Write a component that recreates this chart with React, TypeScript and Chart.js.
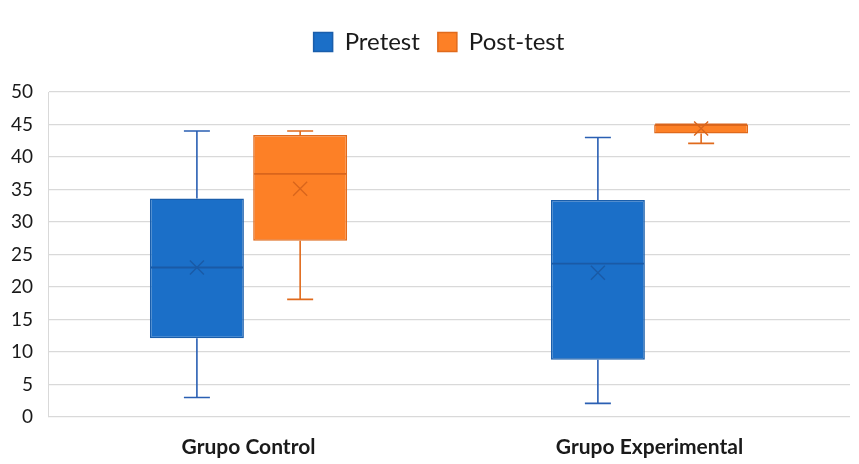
import React, { useEffect, useRef } from "react";
import { Chart, registerables } from "chart.js";

Chart.register(...registerables);

const categories = ["Grupo Control", "Grupo Experimental"];
const seriesNames = ["Pretest", "Post-test"];

const preMin = [3, 2.1];
const preQ1 = [12.1, 8.8];
const preMedian = [23, 23.6];
const preQ3 = [33.6, 33.4];
const preMax = [44, 43];
const preMean = [23, 22.2];

const postMin = [18.1, 42.1];
const postQ1 = [27.1, 43.6];
const postMedian = [37.4, 45];
const postQ3 = [43.4, 45];
const postMax = [44, 45];
const postMean = [35.1, 44.4];

const yTicks = [0, 5, 10, 15, 20, 25, 30, 35, 40, 45, 50];

const stats = [
  { min: preMin, q1: preQ1, med: preMedian, q3: preQ3, max: preMax, mean: preMean },
  { min: postMin, q1: postQ1, med: postMedian, q3: postQ3, max: postMax, mean: postMean },
];

const fills = ["#1b6fc8", "#fd8026"];
const borders = ["#1a5eab", "#e06a1c"];
const whiskerColors = ["#2a5fb3", "#e06a1c"];
const markColors = ["#1a5aa6", "#d9651c"];

const legendGap = {
  id: "legendGap",
  beforeInit(chart: any) {
    const lg = chart.legend;
    const origFit = lg.fit;
    lg.fit = function () {
      origFit.call(this);
      this.height += 28;
    };
    const origDraw = lg.draw;
    lg.draw = function () {
      const c = this.ctx;
      c.save();
      c.translate(13, 0);
      origDraw.call(this);
      c.restore();
    };
  },
};

const boxPlugin = {
  id: "boxDecor",
  afterDatasetsDraw(chart: any) {
    const ctx = chart.ctx;
    const y = chart.scales.y;
    chart.data.datasets.forEach((_ds: any, di: number) => {
      const meta = chart.getDatasetMeta(di);
      const s = stats[di];
      meta.data.forEach((el: any, i: number) => {
        const x = el.x;
        const w = el.width;
        const half = w / 2;
        const cap = 13;
        ctx.save();
        ctx.strokeStyle = whiskerColors[di];
        ctx.lineWidth = 1.6;
        ctx.beginPath();
        const pMax = y.getPixelForValue(s.max[i]);
        const pQ3 = y.getPixelForValue(s.q3[i]);
        const pQ1 = y.getPixelForValue(s.q1[i]);
        const pMin = y.getPixelForValue(s.min[i]);
        if (s.max[i] > s.q3[i]) {
          ctx.moveTo(x, pQ3);
          ctx.lineTo(x, pMax);
          ctx.moveTo(x - cap, pMax);
          ctx.lineTo(x + cap, pMax);
        }
        if (s.min[i] < s.q1[i]) {
          ctx.moveTo(x, pQ1);
          ctx.lineTo(x, pMin);
          ctx.moveTo(x - cap, pMin);
          ctx.lineTo(x + cap, pMin);
        }
        ctx.stroke();
        ctx.strokeStyle = markColors[di];
        ctx.lineWidth = 1.8;
        const pMed = y.getPixelForValue(s.med[i]);
        ctx.beginPath();
        ctx.moveTo(x - half + 1, pMed);
        ctx.lineTo(x + half - 1, pMed);
        ctx.stroke();
        const pMean = y.getPixelForValue(s.mean[i]);
        const m = 7;
        ctx.lineWidth = 1.4;
        ctx.beginPath();
        ctx.moveTo(x - m, pMean - m);
        ctx.lineTo(x + m, pMean + m);
        ctx.moveTo(x + m, pMean - m);
        ctx.lineTo(x - m, pMean + m);
        ctx.stroke();
        ctx.restore();
      });
    });
  },
};

export default function App() {
  const ref = useRef<HTMLCanvasElement | null>(null);
  useEffect(() => {
    if (!ref.current) return;
    const chart = new Chart(ref.current, {
      type: "bar",
      data: {
        labels: categories,
        datasets: seriesNames.map((name, di) => ({
          label: name,
          data: categories.map((_c, i) => [stats[di].q1[i], stats[di].q3[i]]),
          backgroundColor: fills[di],
          borderColor: borders[di],
          borderWidth: 1.5,
          borderSkipped: false,
          categoryPercentage: 0.515,
          barPercentage: 0.91,
        })),
      },
      options: {
        animation: false,
        responsive: true,
        maintainAspectRatio: false,
        layout: { padding: { top: 12, left: 2, right: 9, bottom: 0 } },
        plugins: {
          legend: {
            position: "top",
            labels: {
              boxWidth: 19,
              boxHeight: 19,
              padding: 18,
              color: "#1a1a1a",
              font: { family: "Lato", size: 24 },
            },
          },
          tooltip: { enabled: false },
        },
        scales: {
          x: {
            grid: { display: false },
            border: { display: false },
            afterFit(scale: any) {
              scale.height = 47;
            },
            ticks: {
              color: "#1a1a1a",
              font: { family: "Lato", size: 21, weight: "bold" },
              padding: 10,
            },
          },
          y: {
            min: 0,
            max: 50,
            afterBuildTicks(axis: any) {
              axis.ticks = yTicks.map((v) => ({ value: v }));
            },
            afterFit(scale: any) {
              scale.width -= 6;
            },
            grid: { color: "#d9d9d9", lineWidth: 1.3, drawTicks: false },
            border: { display: true, color: "#d9d9d9" },
            ticks: {
              color: "#1a1a1a",
              font: { family: "Lato", size: 19 },
              padding: 15,
            },
          },
        },
      },
      plugins: [legendGap, boxPlugin],
    });
    return () => chart.destroy();
  }, []);
  return (
    <div style={{ position: "fixed", left: 0, top: 0, width: 859, height: 464, background: "#fff" }}>
      <canvas ref={ref} />
    </div>
  );
}
